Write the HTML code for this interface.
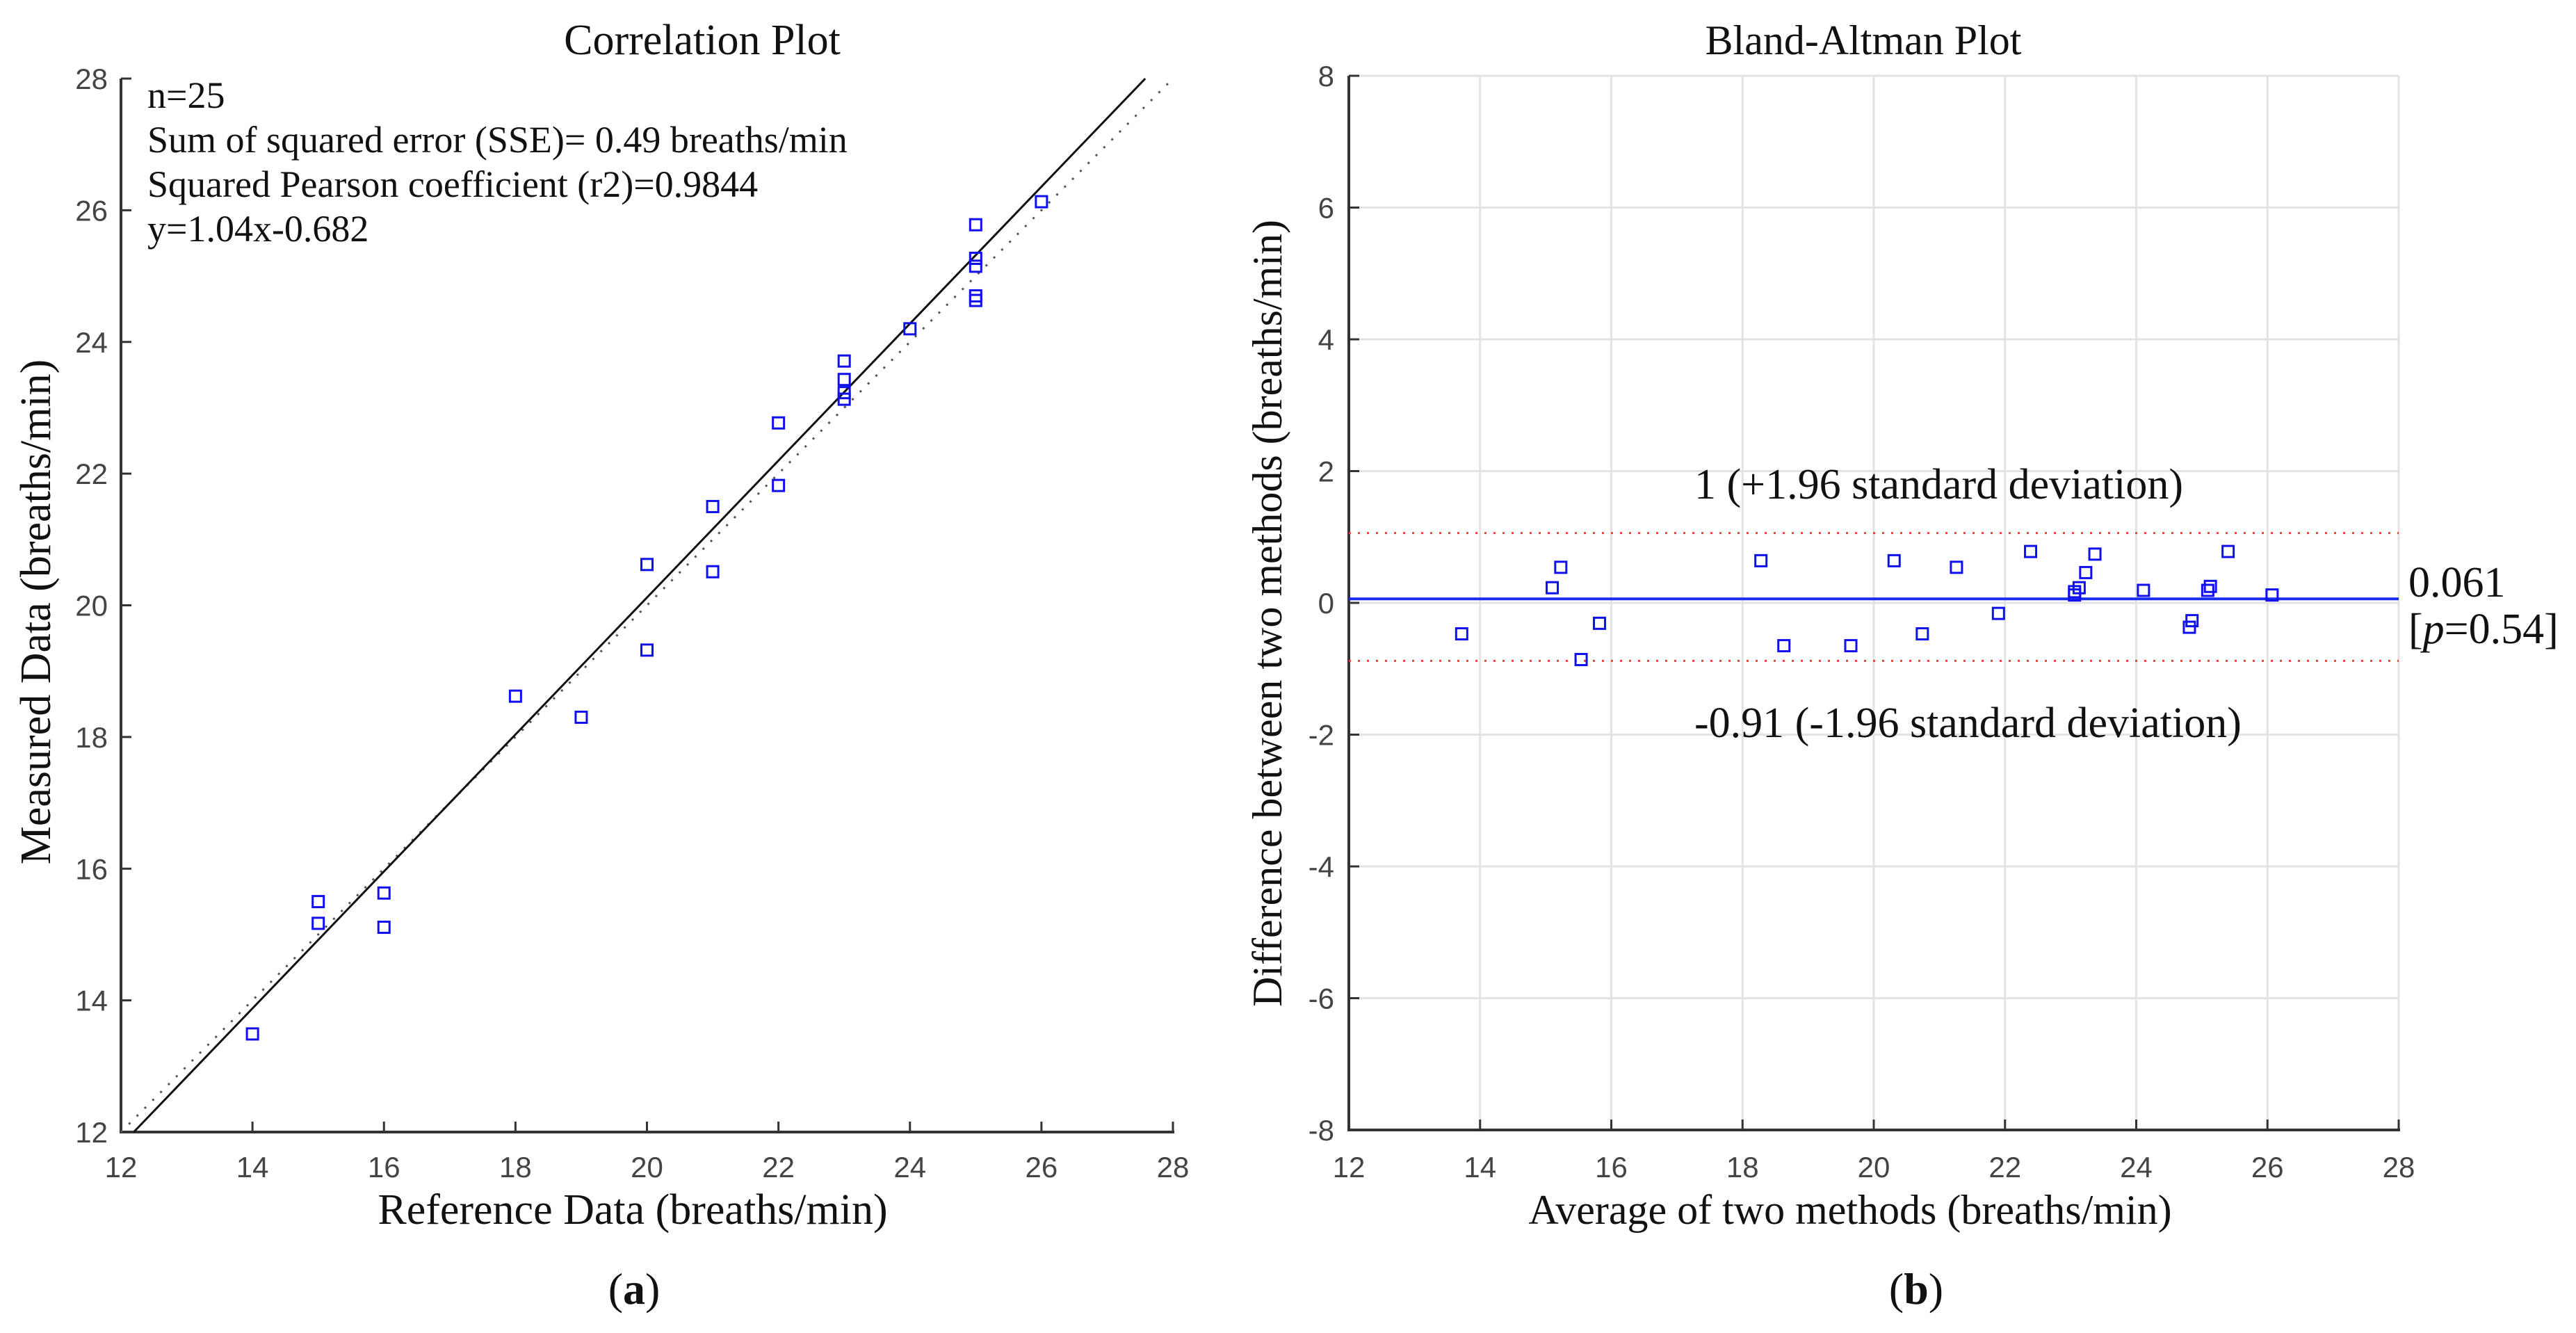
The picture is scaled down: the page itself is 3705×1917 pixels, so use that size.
<!DOCTYPE html>
<html><head><meta charset="utf-8"><style>
html,body{margin:0;padding:0;background:#fff;}
svg{display:block;}
.tick{font-family:"Liberation Sans",Arial,sans-serif;font-size:42px;fill:#444;}
.serif{font-family:"Liberation Serif",serif;fill:#111;}
</style></head><body>
<svg id="fig" width="3705" height="1917" viewBox="0 0 3705 1917" xmlns="http://www.w3.org/2000/svg">
<g id="corr"></g>
<g id="ba"></g>
</svg>
<script>
// ---- Correlation plot data ----
const corrRef = [14,15,15,16,16,18,19,20,20,21,21,22,22,23,23,23,23,24,25,25,25,25,25,26];
const corrMeas = [13.49,15.5,15.17,15.63,15.11,18.62,18.3,20.62,19.32,21.5,20.51,22.77,21.82,23.71,23.43,23.23,23.13,24.2,25.78,25.27,25.15,24.7,24.63,26.13];
const corrTicks = [12,14,16,18,20,22,24,26,28];
const fitSlope = [1.04];
const fitIntercept = [-0.682];
// ---- Bland-Altman data ----
const baAvg = [13.72,15.10,15.23,15.54,15.82,18.28,18.63,19.65,20.31,20.74,21.26,21.90,22.39,23.06,23.06,23.13,23.23,23.37,24.11,24.81,24.85,25.09,25.13,25.40,26.07];
const baDiff = [-0.47,0.23,0.54,-0.86,-0.31,0.64,-0.65,-0.65,0.64,-0.47,0.54,-0.16,0.78,0.12,0.17,0.23,0.46,0.74,0.19,-0.37,-0.27,0.19,0.25,0.78,0.12];
const baXTicks = [12,14,16,18,20,22,24,26,28];
const baYTicks = [-8,-6,-4,-2,0,2,4,6,8];
const baMean = [0.061];
const baLimits = [1.06,-0.88];

const NS="http://www.w3.org/2000/svg";
function mk(parent,tag,attrs,text){const e=document.createElementNS(NS,tag);for(const k in attrs)e.setAttribute(k,attrs[k]);if(text!==undefined)e.textContent=text;parent.appendChild(e);return e;}

// Correlation axes
const cg=document.getElementById('corr');
const cx=v=>174+(v-12)*(1687-174)/16;
const cy=v=>1628-(v-12)*(1628-113)/16;
let e;
e=mk(cg,'line',{x1:174,y1:113,x2:174,y2:1628,stroke:'#333','stroke-width':4});


e=mk(cg,'line',{x1:172,y1:1628,x2:1689,y2:1628,stroke:'#333','stroke-width':4});


corrTicks.forEach(t=>{
  mk(cg,'line',{x1:cx(t),y1:1628,x2:cx(t),y2:1613,stroke:'#333','stroke-width':3});
  mk(cg,'line',{x1:174,y1:cy(t),x2:189,y2:cy(t),stroke:'#333','stroke-width':3});
  e=mk(cg,'text',{x:cx(t),y:1693,'text-anchor':'middle',class:'tick'},String(t));
  
  
  e=mk(cg,'text',{x:155,y:cy(t)+15,'text-anchor':'end',class:'tick'},String(t));
  
  
});
e=mk(cg,'line',{x1:cx(12),y1:cy(12),x2:cx(28),y2:cy(28),stroke:'#555','stroke-width':3,'stroke-dasharray':'3 13'});


const x0=(12-fitIntercept[0])/fitSlope[0], x1=(28-fitIntercept[0])/fitSlope[0];
e=mk(cg,'line',{x1:cx(x0),y1:cy(12),x2:cx(x1),y2:cy(28),stroke:'#111','stroke-width':3});


corrRef.forEach((r,i)=>{
  e=mk(cg,'rect',{x:cx(r)-8,y:cy(corrMeas[i])-8,width:16,height:16,fill:'none',stroke:'#1010ee','stroke-width':3});
  
  
});
const ann=['n=25','Sum of squared error (SSE)= 0.49 breaths/min','Squared Pearson coefficient (r2)=0.9844','y=1.04x-0.682'];
ann.forEach((s,i)=>{
  e=mk(cg,'text',{x:212,y:155+i*64,class:'serif','font-size':54},s);
  
  
});
e=mk(cg,'text',{x:1010,y:78,'text-anchor':'middle',class:'serif','font-size':62},'Correlation Plot');


e=mk(cg,'text',{x:910,y:1760,'text-anchor':'middle',class:'serif','font-size':62},'Reference Data (breaths/min)');


e=mk(cg,'text',{x:0,y:0,'text-anchor':'middle',class:'serif','font-size':62,fill:'#1d3340',transform:'translate(72,880) rotate(-90)'},'Measured Data (breaths/min)');


e=mk(cg,'text',{x:912,y:1875,'text-anchor':'middle',class:'serif','font-size':64},'');


e.innerHTML='(<tspan font-weight="bold">a</tspan>)';

// Bland-Altman
const bg=document.getElementById('ba');
const bx=v=>1940+(v-12)*(3450-1940)/16;
const by=v=>1625-(v+8)*(1625-109)/16;
baXTicks.forEach(t=>{
  e=mk(bg,'line',{x1:bx(t),y1:109,x2:bx(t),y2:1625,stroke:'#e3e3e3','stroke-width':3});
  
  
});
baYTicks.forEach(t=>{
  e=mk(bg,'line',{x1:1940,y1:by(t),x2:3450,y2:by(t),stroke:'#e3e3e3','stroke-width':3});
  
  
});
e=mk(bg,'line',{x1:1940,y1:109,x2:1940,y2:1625,stroke:'#333','stroke-width':4});


e=mk(bg,'line',{x1:1938,y1:1625,x2:3452,y2:1625,stroke:'#333','stroke-width':4});


baXTicks.forEach(t=>{
  mk(bg,'line',{x1:bx(t),y1:1625,x2:bx(t),y2:1610,stroke:'#333','stroke-width':3});
  e=mk(bg,'text',{x:bx(t),y:1693,'text-anchor':'middle',class:'tick'},String(t));
  
  
});
baYTicks.forEach(t=>{
  mk(bg,'line',{x1:1940,y1:by(t),x2:1955,y2:by(t),stroke:'#333','stroke-width':3});
  e=mk(bg,'text',{x:1919,y:by(t)+15,'text-anchor':'end',class:'tick'},String(t));
  
  
});
baLimits.forEach(l=>{
  e=mk(bg,'line',{x1:1940,y1:by(l),x2:3450,y2:by(l),stroke:'#e8443a','stroke-width':3,'stroke-dasharray':'3 10'});
  
  
});
e=mk(bg,'line',{x1:1940,y1:by(baMean[0]),x2:3450,y2:by(baMean[0]),stroke:'#1a2cf0','stroke-width':4});


baAvg.forEach((a,i)=>{
  e=mk(bg,'rect',{x:bx(a)-8,y:by(baDiff[i])-8,width:16,height:16,fill:'none',stroke:'#1010ee','stroke-width':3});
  
  
});
e=mk(bg,'text',{x:2437,y:717,class:'serif','font-size':62},'1 (+1.96 standard deviation)');


e=mk(bg,'text',{x:2437,y:1060,class:'serif','font-size':62},'-0.91 (-1.96 standard deviation)');


e=mk(bg,'text',{x:3464,y:858,class:'serif','font-size':62},'0.061');


e=mk(bg,'text',{x:3464,y:925,class:'serif','font-size':62},'');


e.innerHTML='[<tspan font-style="italic">p</tspan>=0.54]';
e=mk(bg,'text',{x:2680,y:78,'text-anchor':'middle',class:'serif','font-size':60},'Bland-Altman Plot');


e=mk(bg,'text',{x:2661,y:1760,'text-anchor':'middle',class:'serif','font-size':60},'Average of two methods (breaths/min)');


e=mk(bg,'text',{x:0,y:0,'text-anchor':'middle',class:'serif','font-size':60,fill:'#1d3340',transform:'translate(1843,882) rotate(-90)'},'Difference between two methods (breaths/min)');


e=mk(bg,'text',{x:2756,y:1875,'text-anchor':'middle',class:'serif','font-size':64},'');


e.innerHTML='(<tspan font-weight="bold">b</tspan>)';
</script>
</body></html>
